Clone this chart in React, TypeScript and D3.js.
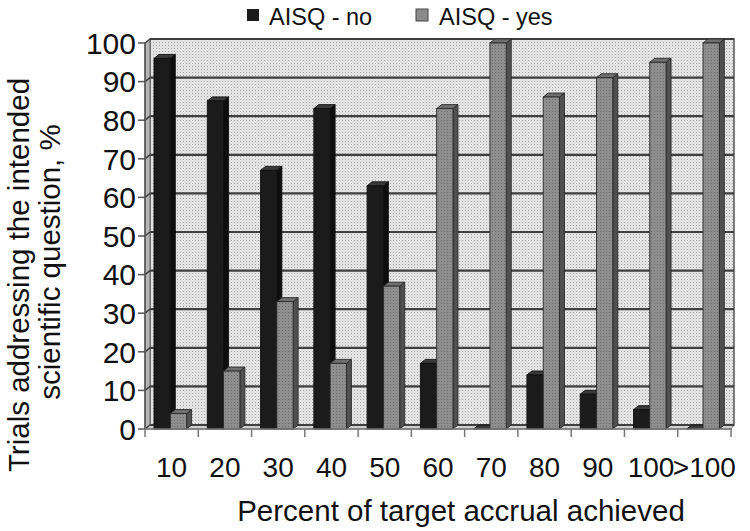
import React from "react";
import * as d3 from "d3";

const categories = ["10", "20", "30", "40", "50", "60", "70", "80", "90", "100", ">100"];
const seriesNames = ["AISQ - no", "AISQ - yes"];
const aisqNo = [96, 85, 67, 83, 63, 17, 0, 14, 9, 5, 0];
const aisqYes = [4, 15, 33, 17, 37, 83, 100, 86, 91, 95, 100];
const yTicks = [0, 10, 20, 30, 40, 50, 60, 70, 80, 90, 100];

const W = 750;
const H = 531;
const FONT = "'Liberation Sans', Arial, Helvetica, sans-serif";

export default function App() {
  const left = 145;
  const right = 731;
  const bottom = 429;
  const top = 43;
  const dx = 5;
  const dy = 4;

  const x0 = d3.scaleBand<string>().domain(categories).range([left, right]);
  const y = d3.scaleLinear().domain([0, 100]).range([bottom, top]);
  const bw = 16.3;
  const x1 = d3.scaleBand<string>().domain(seriesNames).range([0, bw * 2]);
  const groupOffset = 9;

  const series = [aisqNo, aisqYes];
  const styles = [
    { front: "#1b1b1b", top: "#3a3a3a", side: "#0e0e0e", stroke: "#111" },
    { front: "url(#barDots)", top: "#6f6f6f", side: "#505050", stroke: "#2a2a2a" },
  ];

  const wallL = left + dx;
  const wallR = right + dx - 2;

  const bars: React.ReactNode[] = [];
  categories.forEach((c, i) => {
    series.forEach((vals, s) => {
      const v = vals[i];
      const st = styles[s];
      const xa = (x0(c) as number) + groupOffset + (x1(seriesNames[s]) as number);
      const xb = xa + x1.bandwidth();
      const yv = y(v);
      const y0 = y(0);
      bars.push(
        <g key={`${c}-${s}`}>
          <polygon
            points={`${xb},${yv} ${xb + dx},${yv - dy} ${xb + dx},${y0 - dy} ${xb},${y0}`}
            fill={st.side}
            stroke={st.stroke}
            strokeWidth={0.9}
          />
          <polygon
            points={`${xa},${yv} ${xa + dx},${yv - dy} ${xb + dx},${yv - dy} ${xb},${yv}`}
            fill={st.top}
            stroke={st.stroke}
            strokeWidth={0.9}
          />
          <rect
            x={xa}
            y={yv}
            width={xb - xa}
            height={Math.max(0, y0 - yv)}
            fill={st.front}
            stroke={st.stroke}
            strokeWidth={0.9}
          />
        </g>
      );
    });
  });

  return (
    <svg width={W} height={H} style={{ position: "absolute", left: 0, top: 0, background: "#fff" }}>
      <defs>
        <pattern id="wallDots" width={3} height={3} patternUnits="userSpaceOnUse">
          <rect width={3} height={3} fill="#e3e3e3" />
          <rect width={1} height={1} fill="#a8a8a8" />
        </pattern>
        <pattern id="barDots" width={3} height={3} patternUnits="userSpaceOnUse">
          <rect width={3} height={3} fill="#8e8e8e" />
          <rect width={1} height={1} fill="#6e6e6e" />
        </pattern>
      </defs>

      {/* Legend */}
      <g fontFamily={FONT} fontSize={23.5} fill="#111">
        <rect x={247} y={9} width={12} height={12} fill="#1b1b1b" />
        <text x={269} y={25}>{seriesNames[0]}</text>
        <rect x={416} y={9} width={12} height={12} fill="#8a8a8a" stroke="#444" strokeWidth={1} />
        <text x={439} y={25}>{seriesNames[1]}</text>
      </g>

      {/* Back wall */}
      <rect x={wallL} y={top - dy} width={wallR - wallL} height={bottom - top} fill="url(#wallDots)" stroke="#555" strokeWidth={1.5} />
      {/* Left side wall */}
      <polygon
        points={`${left},${bottom} ${left},${top} ${wallL},${top - dy} ${wallL},${bottom - dy}`}
        fill="#b5b5b5"
        stroke="#666"
        strokeWidth={1}
      />
      {/* Floor */}
      <polygon
        points={`${left},${bottom} ${right},${bottom} ${wallR},${bottom - dy} ${wallL},${bottom - dy}`}
        fill="#cfcfcf"
        stroke="#777"
        strokeWidth={1}
      />

      {/* Gridlines */}
      {yTicks.map((t) => (
        <g key={`g${t}`}>
          <line x1={wallL} x2={wallR} y1={y(t) - dy} y2={y(t) - dy} stroke="#3f3f3f" strokeWidth={2.2} />
          <line x1={left} x2={wallL} y1={y(t)} y2={y(t) - dy} stroke="#3f3f3f" strokeWidth={1.5} />
        </g>
      ))}

      {bars}

      {/* Axes */}
      <line x1={left} x2={left} y1={top} y2={bottom} stroke="#555" strokeWidth={1.5} />
      <line x1={left} x2={right} y1={bottom} y2={bottom} stroke="#777" strokeWidth={1.5} />
      {yTicks.map((t) => (
        <line key={`yt${t}`} x1={left - 7} x2={left} y1={y(t)} y2={y(t)} stroke="#555" strokeWidth={1.5} />
      ))}
      {[...categories.map((c) => x0(c) as number), right].map((xv, i) => (
        <line key={`xt${i}`} x1={xv} x2={xv} y1={bottom} y2={bottom + 8} stroke="#777" strokeWidth={1.5} />
      ))}

      {/* Tick labels */}
      <g fontFamily={FONT} fill="#111">
        {yTicks.map((t) => (
          <text key={`yl${t}`} x={left - 9} y={y(t)} dy="0.36em" textAnchor="end" fontSize={30}>
            {t}
          </text>
        ))}
        {categories.map((c) => (
          <text key={`xl${c}`} x={(x0(c) as number) + x0.bandwidth() / 2} y={477} textAnchor="middle" fontSize={28}>
            {c}
          </text>
        ))}
      </g>

      {/* Axis titles */}
      <g fontFamily={FONT} fontSize={29.5} fill="#111">
        <text x={461} y={521} textAnchor="middle">Percent of target accrual achieved</text>
        <text transform="translate(29,275) rotate(-90)" textAnchor="middle">Trials addressing the intended</text>
        <text transform="translate(60,262) rotate(-90)" textAnchor="middle">scientific question, %</text>
      </g>
    </svg>
  );
}
